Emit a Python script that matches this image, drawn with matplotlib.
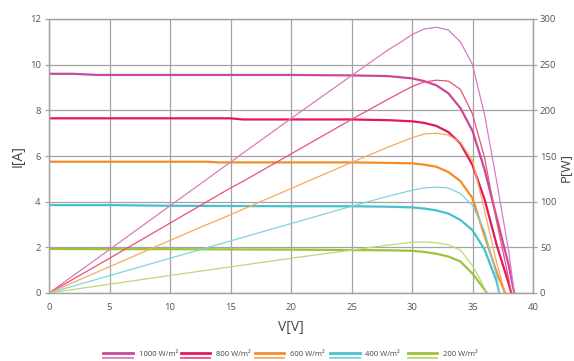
import matplotlib
matplotlib.use("Agg")
import matplotlib.pyplot as plt
from matplotlib.lines import Line2D

plt.rcParams['font.family'] = ['Open Sans', 'DejaVu Sans']

# ---- data ----
labels = ['1000 W/m²', '800 W/m²', '600 W/m²', '400 W/m²', '200 W/m²']

V1000 = [0, 2, 4, 10, 20, 25, 28, 29, 30, 31, 32, 33, 34, 35, 36, 37, 38, 38.45]
I1000 = [9.6, 9.6, 9.55, 9.55, 9.55, 9.53, 9.5, 9.45, 9.4, 9.28, 9.1, 8.75, 8.1, 7.1, 5.4, 3.3, 1.2, 0]
P1000 = [0, 19, 38, 95.5, 191, 238, 266, 274, 283, 289, 291, 288, 275, 250, 195, 122, 45, 0]

V800 = [0, 5, 15, 16, 25, 28, 30, 31, 32, 33, 34, 35, 36, 37, 38, 38.2]
I800 = [7.65, 7.65, 7.65, 7.6, 7.6, 7.57, 7.52, 7.45, 7.32, 7.05, 6.55, 5.6, 4.1, 2.1, 0.4, 0]
P800 = [0, 38, 115, 122, 190, 212, 226, 231, 233, 232, 223, 196, 148, 78, 15, 0]

V600 = [0, 10, 13, 14, 25, 28, 30, 31, 32, 33, 34, 35, 36, 37, 37.7]
I600 = [5.75, 5.75, 5.75, 5.72, 5.72, 5.7, 5.68, 5.62, 5.53, 5.3, 4.9, 4.15, 2.5, 0.9, 0]
P600 = [0, 57.5, 74.7, 80, 143, 159.6, 170, 174, 175, 173, 165, 145, 90, 33, 0]

V400 = [0, 5, 10, 20, 25, 28, 30, 31, 32, 33, 34, 35, 36, 37, 37.2]
I400 = [3.85, 3.85, 3.82, 3.8, 3.8, 3.78, 3.75, 3.7, 3.62, 3.48, 3.2, 2.75, 1.9, 0.5, 0]
P400 = [0, 19, 38, 76, 95, 105.8, 112.5, 115, 116, 115, 109, 96, 68, 18, 0]

V200 = [0, 5, 10, 20, 25, 28, 30, 31, 32, 33, 34, 35, 35.5, 36.2]
I200 = [1.93, 1.92, 1.92, 1.9, 1.88, 1.87, 1.85, 1.8, 1.72, 1.6, 1.38, 0.85, 0.5, 0]
P200 = [0, 9.6, 19.2, 38, 47, 52.4, 55.5, 56, 55, 52.8, 47, 30, 18, 0]

x_ticks = [0, 5, 10, 15, 20, 25, 30, 35, 40]
i_ticks = [0, 2, 4, 6, 8, 10, 12]
p_ticks = [0, 50, 100, 150, 200, 250, 300]

series = [(V1000, I1000, P1000), (V800, I800, P800), (V600, I600, P600),
          (V400, I400, P400), (V200, I200, P200)]
thick_colors = ['#C9489B', '#E2185B', '#F28C28', '#47C0CF', '#9CC43A']
thin_colors = ['#D97BC0', '#E8507A', '#F6AA5F', '#7FD3DD', '#BDD977']

W, H = 574, 361
fig = plt.figure(figsize=(W / 100, H / 100), dpi=100)
ax = fig.add_axes([49 / W, 1 - 293 / H, 484 / W, 274 / H])
ax2 = ax.twinx()

gc = '#a3a3a3'
ax.set_xlim(0, 40)
ax.set_ylim(0, 12)
ax2.set_ylim(0, 300)
ax.set_xticks(x_ticks)
ax.set_yticks(i_ticks)
ax2.set_yticks(p_ticks)
ax.grid(True, color=gc, lw=0.9)
ax.set_axisbelow(True)
for a in (ax, ax2):
    for s in a.spines.values():
        s.set_color(gc)
        s.set_linewidth(0.9)
ax.tick_params(axis='both', length=3, width=0.9, color=gc, labelsize=6.8,
               labelcolor='#555555', pad=3)
ax.tick_params(axis='x', length=0, pad=7)
ax2.tick_params(axis='y', length=3, width=0.9, color=gc, labelsize=6.8,
                labelcolor='#555555', pad=2)

for (v, i, p), c1, c2 in zip(series, thick_colors, thin_colors):
    ax.plot(v, i, color=c1, lw=1.6, solid_joinstyle='round')
    ax2.plot(v, p, color=c2, lw=0.9, solid_joinstyle='round')

fig.text(18 / W, 1 - 156 / H, 'I[A]', rotation=90, ha='center', va='center',
         fontsize=10, color='#444444')
fig.text(565 / W, 1 - 167 / H, 'P[W]', rotation=90, ha='center', va='center',
         fontsize=9.5, color='#444444')
fig.text(291 / W, 1 - 328 / H, 'V[V]', ha='center', va='center',
         fontsize=10, color='#444444')

# legend
hx = [(103, 133), (181, 210), (255, 284), (330, 360), (408, 437)]
tx = [139, 216, 290, 365, 443]
for (x0, x1), t, lab, c1, c2 in zip(hx, tx, labels, thick_colors, thin_colors):
    fig.add_artist(Line2D([x0 / W, x1 / W], [1 - 353 / H, 1 - 353 / H],
                          color=c1, lw=2.0, transform=fig.transFigure))
    fig.add_artist(Line2D([x0 / W, x1 / W], [1 - 357.5 / H, 1 - 357.5 / H],
                          color=c2, lw=1.3, transform=fig.transFigure))
    fig.text(t / W, 1 - 355 / H, lab, ha='left', va='center', fontsize=5.5,
             color='#444444')

fig.savefig('out.png', dpi=100, facecolor='white')
